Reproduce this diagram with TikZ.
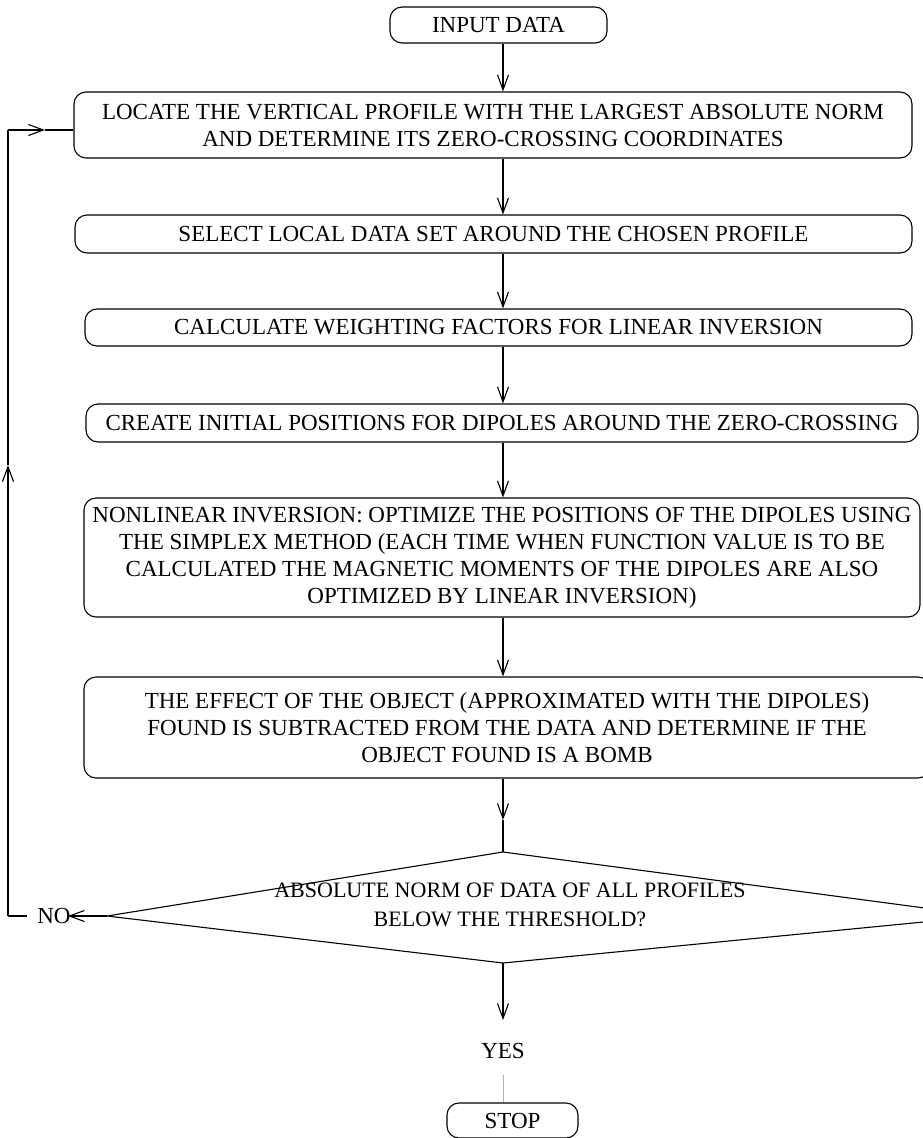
\documentclass[tikz,border=0pt]{standalone}
\usepackage{fontspec}
\setmainfont{Liberation Serif}
\usetikzlibrary{arrows.meta}
\begin{document}
\begin{tikzpicture}[x=1pt,y=-1pt,
  box/.style={draw, line width=1.1pt, rounded corners=12pt, inner sep=0pt, align=center, font=\fontsize{23}{27}\selectfont},
  lbl/.style={inner sep=0pt, align=center, font=\fontsize{23}{28}\selectfont},
  dlbl/.style={inner sep=0pt, align=center, font=\fontsize{22}{29}\selectfont},
  arr/.style={line width=1.1pt, -{Straight Barb[length=15pt,width=11pt,line width=1.1pt]}},
  ln/.style={line width=1.1pt},
  gline/.style={line width=0.8pt, draw=gray!60}]
\useasboundingbox (0,0) rectangle (923,1138);
\begin{scope}
\clip (0,0) rectangle (923,1138);
\coordinate (ax) at (503,0);
\node[box, minimum width=217pt, minimum height=36pt] (in) at (498.5,25) {INPUT DATA};
\node[box, minimum width=838pt, minimum height=66pt] (loc) at (493,125) {LOCATE THE VERTICAL PROFILE WITH THE LARGEST ABSOLUTE NORM\\AND DETERMINE ITS ZERO-CROSSING COORDINATES};
\node[box, minimum width=837pt, minimum height=38pt] (sel) at (493.5,234) {SELECT LOCAL DATA SET AROUND THE CHOSEN PROFILE};
\node[box, minimum width=827pt, minimum height=37pt] (calc) at (498.5,327.5) {CALCULATE WEIGHTING FACTORS FOR LINEAR INVERSION};
\node[box, minimum width=832pt, minimum height=38pt] (cre) at (502,423) {CREATE INITIAL POSITIONS FOR DIPOLES AROUND THE ZERO-CROSSING};
\node[box, minimum width=836pt, minimum height=119pt] (non) at (502,557.5) {NONLINEAR INVERSION: OPTIMIZE THE POSITIONS OF THE DIPOLES USING\\THE SIMPLEX METHOD (EACH TIME WHEN FUNCTION VALUE IS TO BE\\CALCULATED THE MAGNETIC MOMENTS OF THE DIPOLES ARE ALSO\\OPTIMIZED BY LINEAR INVERSION)};
\node[box, minimum width=846pt, minimum height=101pt] (eff) at (507,727.5) {THE EFFECT OF THE OBJECT (APPROXIMATED WITH THE DIPOLES)\\FOUND IS SUBTRACTED FROM THE DATA AND DETERMINE IF THE\\OBJECT FOUND IS A BOMB};
% decision
\coordinate (dl) at (107,916);
\coordinate (dt) at (503,852);
\coordinate (dr) at (985,916);
\coordinate (db) at (503,963);
\draw[ln] (dl) -- (dt) -- (dr) -- (db) -- cycle;
\node[dlbl] (dtxt) at (510,905) {ABSOLUTE NORM OF DATA OF ALL PROFILES\\BELOW THE THRESHOLD?};
\node[lbl] (no) at (54,916) {NO};
\node[lbl] (yes) at (503,1051) {YES};
\node[box, minimum width=131pt, minimum height=35pt] (stop) at (512.5,1120.5) {STOP};
% connectors
\draw[arr] (in.south -| ax) -- (loc.north -| ax);
\draw[arr] (loc.south -| ax) -- (sel.north -| ax);
\draw[arr] (sel.south -| ax) -- (calc.north -| ax);
\draw[arr] (calc.south -| ax) -- (cre.north -| ax);
\draw[arr] (cre.south -| ax) -- (non.north -| ax);
\draw[arr] (non.south -| ax) -- (eff.north -| ax);
\coordinate (m1) at (503,820);
\draw[arr] (eff.south -| ax) -- (m1);
\draw[ln] (m1) -- (dt);
\draw[arr] (dl) -- ([xshift=-3pt]no.east);
\coordinate (c1) at (8,916);
\coordinate (up) at (8,465);
\coordinate (c2) at (8,130);
\coordinate (rt) at (45,130);
\draw[ln] ([xshift=-10pt]no.west) -- (c1);
\draw[arr] (c1) -- (up);
\draw[ln] (up) -- (c2);
\draw[arr] (c2) -- (rt);
\draw[ln] (rt) -- (loc.west |- rt);
\coordinate (m2) at (503,1020);
\draw[arr] (db) -- (m2);
\coordinate (g1) at (503,1075);
\draw[gline] (g1) -- (stop.north -| ax);
\end{scope}
\end{tikzpicture}
\end{document}
